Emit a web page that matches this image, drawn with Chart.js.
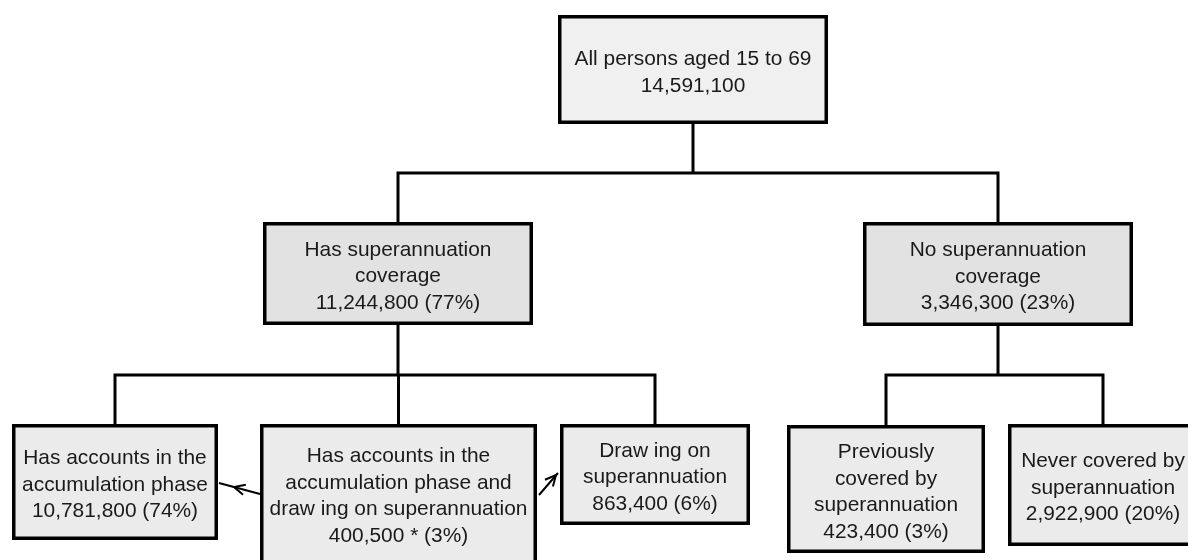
<!DOCTYPE html>
<html>
<head>
<meta charset="utf-8">
<script src="https://cdn.jsdelivr.net/npm/chart.js@4"></script>
<style>
  html, body { margin: 0; padding: 0; background: #ffffff; }
  #wrap { width: 1188px; height: 560px; position: relative; }
</style>
</head>
<body>
<div id="wrap"><canvas id="c"></canvas></div>
<script>
// ---- data ----
const nodeLabels = [
  "All persons aged 15 to 69",
  "Has superannuation\ncoverage",
  "No superannuation\ncoverage",
  "Has accounts in the\naccumulation phase",
  "Has accounts in the\naccumulation phase and\ndraw ing on superannuation",
  "Draw ing on\nsuperannuation",
  "Previously\ncovered by\nsuperannuation",
  "Never covered by\nsuperannuation"
];
const nodeValues = [14591100, 11244800, 3346300, 10781800, 400500, 863400, 423400, 2922900];
const nodePercents = [null, 77, 23, 74, 3, 6, 3, 20];
const nodeFlags = ["", "", "", "", " *", "", "", ""];
const nodeParents = [-1, 0, 0, 1, 1, 1, 2, 2];
const nodeLevels = [0, 1, 1, 2, 2, 2, 2, 2];
const arrowFrom = [4, 4];
const arrowTo = [3, 5];

// ---- layout (axis units: x 0..1188, y 0..560 from top) ----
const boxLeft   = [558, 263, 863, 12, 260, 560, 787, 1008];
const boxTop    = [15, 222, 222, 424, 424, 424, 425, 424];
const boxRight  = [828, 533, 1133, 218, 537, 750, 985, 1198];
const boxBottom = [124, 325, 326, 540, 568, 525, 553, 546];
const textShift = [3, 3, 3, 3, 0, 3, 3, 3];
const busY = { 0: 173, 1: 375, 2: 375 };
const arrowStart = [[260, 494], [539, 495]];
const arrowEnd   = [[219, 483], [558, 473]];
const arrowTip   = [[234, 487], [556, 475]];
const levelFill = ["#f0f0f0", "#e2e2e2", "#ebebeb"];

function cx(i) { return (boxLeft[i] + boxRight[i]) / 2; }

// connectors built from the tree structure
const connectorPts = [];
Object.keys(busY).forEach(k => {
  const p = +k;
  const kids = nodeParents.map((q, i) => q === p ? i : -1).filter(i => i >= 0);
  if (!kids.length) return;
  const y = busY[p];
  connectorPts.push({x: cx(p), y: boxBottom[p]}, {x: cx(p), y: y}, {x: null, y: null});
  const xs = kids.map(cx);
  connectorPts.push({x: Math.min(...xs), y: y}, {x: Math.max(...xs), y: y}, {x: null, y: null});
  kids.forEach(c => {
    connectorPts.push({x: cx(c), y: y}, {x: cx(c), y: boxTop[c]}, {x: null, y: null});
  });
});
const arrowPts = [];
arrowFrom.forEach((f, i) => {
  arrowPts.push({x: arrowStart[i][0], y: arrowStart[i][1]}, {x: arrowEnd[i][0], y: arrowEnd[i][1]}, {x: null, y: null});
});

function nodeText(i) {
  const lines = nodeLabels[i].split("\n");
  let v = nodeValues[i].toLocaleString("en-US") + nodeFlags[i];
  if (nodePercents[i] !== null) v += " (" + nodePercents[i] + "%)";
  lines.push(v);
  return lines;
}

const treePlugin = {
  id: "tree",
  afterDatasetsDraw(chart) {
    const ctx = chart.ctx;
    const xs = chart.scales.x, ys = chart.scales.y;
    const X = v => xs.getPixelForValue(v), Y = v => ys.getPixelForValue(v);
    ctx.save();
    // arrowheads
    ctx.strokeStyle = "#000";
    ctx.lineWidth = 2;
    arrowFrom.forEach((f, i) => {
      const sx = X(arrowStart[i][0]), sy = Y(arrowStart[i][1]);
      const ex = X(arrowEnd[i][0]), ey = Y(arrowEnd[i][1]);
      const tx = X(arrowTip[i][0]), ty = Y(arrowTip[i][1]);
      const ang = Math.atan2(ey - sy, ex - sx);
      const len = 12, spread = 0.45;
      ctx.beginPath();
      ctx.moveTo(tx - len * Math.cos(ang - spread), ty - len * Math.sin(ang - spread));
      ctx.lineTo(tx, ty);
      ctx.lineTo(tx - len * Math.cos(ang + spread), ty - len * Math.sin(ang + spread));
      ctx.stroke();
    });
    // boxes
    const bw = 3.5;
    nodeLabels.forEach((lab, i) => {
      const l = X(boxLeft[i]), r = X(boxRight[i]), t = Y(boxTop[i]), b = Y(boxBottom[i]);
      ctx.fillStyle = levelFill[nodeLevels[i]];
      ctx.fillRect(l, t, r - l, b - t);
      ctx.lineWidth = bw;
      ctx.strokeStyle = "#000";
      ctx.strokeRect(l + bw / 2, t + bw / 2, r - l - bw, b - t - bw);
      const lines = nodeText(i);
      ctx.fillStyle = "#1a1a1a";
      ctx.font = "20.9px 'Liberation Sans', Arial, sans-serif";
      ctx.textAlign = "center";
      ctx.textBaseline = "middle";
      const lh = 26.5;
      const mid = (t + b) / 2 + textShift[i];
      const y0 = mid - (lines.length - 1) * lh / 2;
      lines.forEach((s, k) => ctx.fillText(s, (l + r) / 2, y0 + k * lh));
    });
    ctx.restore();
  }
};

new Chart(document.getElementById("c"), {
  type: "scatter",
  data: {
    datasets: [
      { label: "connectors", data: connectorPts, showLine: true, spanGaps: false,
        borderColor: "#000", borderWidth: 3, pointRadius: 0, borderCapStyle: "square" },
      { label: "arrows", data: arrowPts, showLine: true, spanGaps: false,
        borderColor: "#000", borderWidth: 2, pointRadius: 0 }
    ]
  },
  options: {
    responsive: true,
    maintainAspectRatio: false,
    animation: false,
    layout: { padding: 0 },
    plugins: { legend: { display: false }, tooltip: { enabled: false } },
    scales: {
      x: { type: "linear", min: 0, max: 1188, display: false },
      y: { type: "linear", min: 0, max: 560, reverse: true, display: false }
    }
  },
  plugins: [treePlugin]
});
</script>
</body>
</html>
